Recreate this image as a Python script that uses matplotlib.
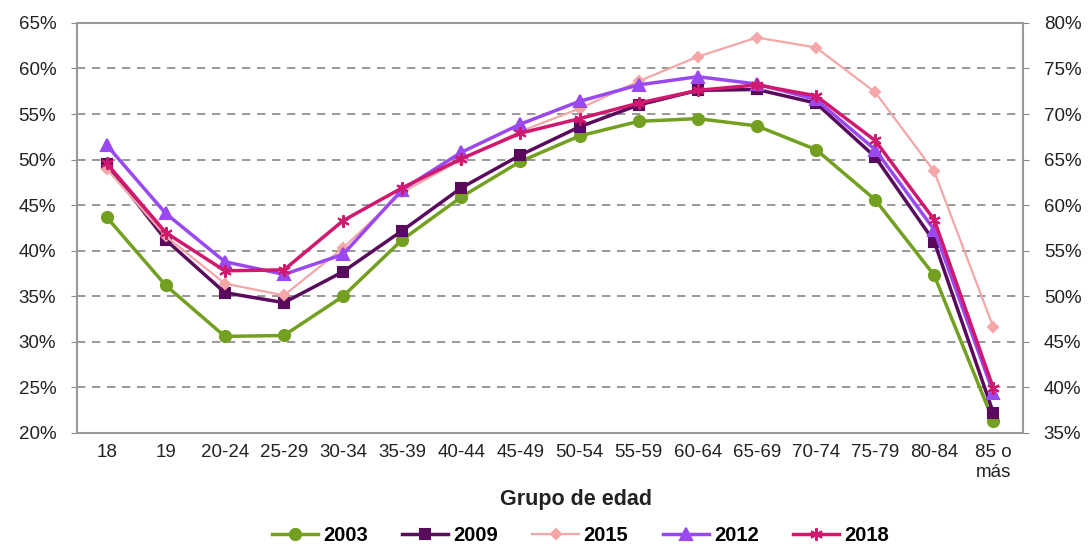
import matplotlib
matplotlib.use('Agg')
import matplotlib.pyplot as plt
from matplotlib.ticker import FuncFormatter

plt.rcParams['font.family'] = ['Liberation Sans', 'DejaVu Sans']

groups = ['18', '19', '20-24', '25-29', '30-34', '35-39', '40-44', '45-49', '50-54',
          '55-59', '60-64', '65-69', '70-74', '75-79', '80-84', '85 o\nmás']

v2003 = [43.7, 36.2, 30.6, 30.7, 35.0, 41.2, 45.9, 49.8, 52.6, 54.2, 54.5, 53.7, 51.1, 45.6, 37.3, 21.3]
v2009 = [49.5, 41.2, 35.4, 34.3, 37.7, 42.2, 46.9, 50.5, 53.6, 56.0, 57.6, 57.7, 56.2, 50.3, 41.0, 22.2]
v2015 = [49.0, 41.6, 36.4, 35.1, 40.3, 46.4, 50.0, 53.1, 55.6, 58.6, 61.3, 63.4, 62.3, 57.4, 48.7, 31.6]
v2012 = [51.6, 44.1, 38.8, 37.4, 39.6, 46.7, 50.8, 53.9, 56.4, 58.2, 59.1, 58.3, 56.6, 51.1, 42.3, 24.4]
v2018 = [49.6, 42.0, 37.8, 37.9, 43.3, 46.9, 50.1, 52.9, 54.5, 56.2, 57.6, 58.2, 57.0, 52.1, 43.4, 24.9]

series = [
    ('2003', v2003, '#73A020', 'o', 8, 2.5),
    ('2009', v2009, '#5A0A5C', 's', 7, 2.5),
    ('2015', v2015, '#F4A6A8', 'D', 5.5, 1.6),
    ('2012', v2012, '#9A48F0', '^', 8, 2.5),
    ('2018', v2018, '#D0186E', (6, 2, 0), 9, 2.5),
]

fig = plt.figure(figsize=(10.91, 5.46), dpi=100)
ax = fig.add_axes([0.0706, 0.207, 0.867, 0.751])
x = list(range(len(groups)))

for name, vals, color, marker, ms, lw in series:
    ax.plot(x, vals, color=color, marker=marker, markersize=ms, linewidth=lw,
            markeredgecolor=color, markeredgewidth=1.5, label=name)

ax.set_xlim(-0.5, len(groups) - 0.5)
ax.set_ylim(20, 65)
ax.set_yticks(range(20, 66, 5))
ax.yaxis.set_major_formatter(FuncFormatter(lambda v, p: f'{v:.0f}%'))
ax.set_xticks(x)
ax.set_xticklabels(groups)
ax.tick_params(axis='x', length=0, pad=8, labelsize=13.5, colors='#222222')
ax.tick_params(axis='y', length=4, color='#888888', pad=11, labelsize=13.5, labelcolor='#222222')
ax.grid(axis='y', color='#888888', linestyle=(0, (5, 4)), linewidth=1.2)
ax.set_axisbelow(True)
for s in ax.spines.values():
    s.set_color('#999999')
    s.set_linewidth(1.5)

# right-hand scale
ax2 = ax.twinx()
ax2.set_ylim(35, 80)
ax2.set_yticks(range(35, 81, 5))
ax2.yaxis.set_major_formatter(FuncFormatter(lambda v, p: f'{v:.0f}%'))
ax2.tick_params(axis='y', length=4, color='#888888', pad=11, labelsize=13.5, labelcolor='#222222')
for s in ax2.spines.values():
    s.set_visible(False)

ax.set_xlabel('Grupo de edad', fontsize=15.5, fontweight='bold', color='#222222')
ax.xaxis.set_label_coords(0.527, -0.136)

handles, labels = ax.get_legend_handles_labels()
fig.legend(handles, labels, loc='center', bbox_to_anchor=(0.532, 0.0185), ncol=5, frameon=False,
           prop={'weight': 'bold', 'size': 14.5}, handlelength=2.3, columnspacing=1.7,
           handletextpad=0.25, borderpad=0.1)

fig.savefig('out.png', dpi=100)
